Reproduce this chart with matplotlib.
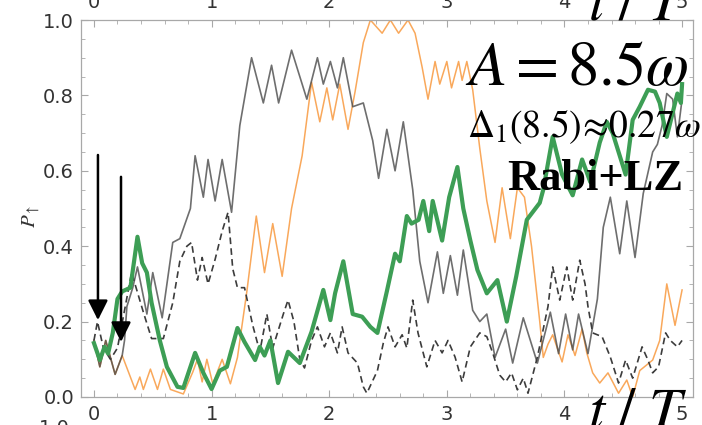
import matplotlib
matplotlib.use("Agg")
import matplotlib.pyplot as plt
import numpy as np

plt.rcParams['mathtext.fontset'] = 'stix'

# ---- data (t/T, P_up) ----
gray_t = [0.00, 0.05, 0.10, 0.18, 0.24, 0.26, 0.28, 0.33, 0.37, 0.45, 0.50, 0.58, 0.67, 0.73,
          0.82, 0.86, 0.93, 0.97, 1.03, 1.09, 1.17, 1.24, 1.34, 1.44, 1.51, 1.57, 1.68, 1.81,
          1.90, 1.95, 2.01, 2.07, 2.12, 2.20, 2.29, 2.37, 2.42, 2.49, 2.56, 2.63, 2.71, 2.77,
          2.84, 2.92, 2.97, 3.03, 3.09, 3.14, 3.22, 3.28, 3.34, 3.41, 3.50, 3.56, 3.65, 3.77,
          3.88, 3.95, 4.01, 4.07, 4.12, 4.20, 4.28, 4.33, 4.39, 4.47, 4.53, 4.60, 4.67, 4.75,
          4.79, 4.83, 4.87, 4.92, 4.96, 5.00]
gray_p = [0.15, 0.08, 0.15, 0.06, 0.11, 0.15, 0.24, 0.29, 0.345, 0.22, 0.33, 0.21, 0.41, 0.42,
          0.50, 0.64, 0.53, 0.63, 0.52, 0.63, 0.49, 0.72, 0.90, 0.78, 0.88, 0.78, 0.92, 0.79,
          0.90, 0.83, 0.89, 0.82, 0.90, 0.77, 0.78, 0.68, 0.58, 0.71, 0.60, 0.73, 0.55, 0.36,
          0.25, 0.385, 0.275, 0.375, 0.27, 0.39, 0.23, 0.20, 0.22, 0.105, 0.18, 0.09, 0.21, 0.09,
          0.225, 0.115, 0.22, 0.125, 0.22, 0.115, 0.26, 0.45, 0.53, 0.38, 0.52, 0.37, 0.54, 0.65,
          0.67, 0.72, 0.805, 0.79, 0.69, 0.79]

orange_t = [0.00, 0.05, 0.10, 0.18, 0.24, 0.35, 0.39, 0.42, 0.48, 0.54, 0.59, 0.65, 0.76, 0.84,
            0.88, 0.92, 0.96, 1.01, 1.09, 1.16, 1.22, 1.30, 1.38, 1.45, 1.52, 1.60, 1.68, 1.77,
            1.85, 1.92, 1.98, 2.03, 2.09, 2.16, 2.22, 2.29, 2.35, 2.45, 2.52, 2.59, 2.67, 2.73,
            2.79, 2.84, 2.90, 2.94, 3.00, 3.04, 3.10, 3.13, 3.17, 3.22, 3.28, 3.34, 3.41, 3.47,
            3.54, 3.60, 3.66, 3.72, 3.79, 3.82, 3.86, 3.90, 3.98, 4.03, 4.09, 4.15, 4.19, 4.24,
            4.30, 4.37, 4.46, 4.53, 4.58, 4.64, 4.75, 4.81, 4.87, 4.94, 5.00]
orange_p = [0.15, 0.08, 0.15, 0.06, 0.11, 0.02, 0.053, 0.02, 0.074, 0.02, 0.074, 0.02, 0.008, 0.066,
            0.10, 0.04, 0.10, 0.035, 0.10, 0.035, 0.105, 0.28, 0.48, 0.33, 0.46, 0.32, 0.50, 0.64,
            0.835, 0.73, 0.82, 0.735, 0.83, 0.71, 0.81, 0.94, 1.0, 0.965, 1.0, 0.965, 1.0, 0.965,
            0.875, 0.79, 0.89, 0.83, 0.89, 0.82, 0.89, 0.84, 0.89, 0.815, 0.66, 0.52, 0.41, 0.555,
            0.42, 0.555, 0.53, 0.40, 0.20, 0.105, 0.14, 0.165, 0.093, 0.165, 0.11, 0.18, 0.117, 0.064,
            0.037, 0.064, 0.01, 0.045, 0.0, 0.07, 0.098, 0.15, 0.30, 0.19, 0.284]

green_t = [0.00, 0.05, 0.09, 0.12, 0.16, 0.20, 0.24, 0.31, 0.37, 0.41, 0.45, 0.49, 0.56, 0.62,
           0.71, 0.76, 0.86, 0.93, 1.00, 1.07, 1.13, 1.22, 1.28, 1.37, 1.41, 1.45, 1.50, 1.565,
           1.65, 1.75, 1.85, 1.95, 2.01, 2.05, 2.12, 2.20, 2.28, 2.35, 2.41, 2.49, 2.56, 2.60,
           2.66, 2.70, 2.76, 2.80, 2.85, 2.88, 2.96, 3.02, 3.09, 3.14, 3.20, 3.26, 3.34, 3.43,
           3.51, 3.59, 3.68, 3.79, 3.82, 3.90, 3.98, 4.07, 4.15, 4.22, 4.30, 4.36, 4.41, 4.47,
           4.52, 4.58, 4.64, 4.71, 4.77, 4.81, 4.87, 4.96, 4.99, 5.00]
green_p = [0.143, 0.098, 0.133, 0.115, 0.17, 0.26, 0.28, 0.29, 0.425, 0.355, 0.33, 0.25, 0.15, 0.08,
           0.027, 0.024, 0.117, 0.064, 0.021, 0.07, 0.08, 0.183, 0.146, 0.098, 0.133, 0.11, 0.15, 0.037,
           0.12, 0.09, 0.173, 0.284, 0.204, 0.275, 0.36, 0.22, 0.213, 0.186, 0.17, 0.28, 0.38, 0.36,
           0.48, 0.46, 0.47, 0.52, 0.44, 0.52, 0.415, 0.53, 0.61, 0.50, 0.415, 0.337, 0.275, 0.31,
           0.20, 0.32, 0.47, 0.515, 0.55, 0.69, 0.59, 0.535, 0.63, 0.57, 0.675, 0.73, 0.70, 0.64,
           0.59, 0.735, 0.77, 0.815, 0.81, 0.78, 0.69, 0.805, 0.78, 0.83]

dash_t = [0.00, 0.03, 0.08, 0.14, 0.20, 0.26, 0.32, 0.42, 0.49, 0.59, 0.67, 0.73, 0.79, 0.83,
          0.88, 0.92, 0.97, 1.03, 1.09, 1.14, 1.18, 1.22, 1.28, 1.35, 1.41, 1.47, 1.52, 1.61,
          1.65, 1.70, 1.75, 1.79, 1.85, 1.90, 1.96, 2.01, 2.07, 2.11, 2.16, 2.24, 2.29, 2.32,
          2.41, 2.46, 2.50, 2.56, 2.62, 2.66, 2.71, 2.755, 2.83, 2.90, 2.96, 3.01, 3.07, 3.13,
          3.20, 3.28, 3.34, 3.39, 3.45, 3.50, 3.55, 3.60, 3.65, 3.69, 3.77, 3.86, 3.90, 3.96,
          4.02, 4.07, 4.13, 4.175, 4.20, 4.24, 4.32, 4.39, 4.46, 4.52, 4.58, 4.66, 4.71, 4.75,
          4.80, 4.86, 4.90, 4.96, 5.00]
dash_p = [0.15, 0.20, 0.13, 0.10, 0.13, 0.23, 0.33, 0.225, 0.155, 0.155, 0.25, 0.36, 0.40, 0.41,
          0.31, 0.37, 0.30, 0.365, 0.44, 0.49, 0.34, 0.29, 0.29, 0.19, 0.12, 0.22, 0.13, 0.22,
          0.257, 0.20, 0.10, 0.077, 0.15, 0.186, 0.133, 0.17, 0.117, 0.186, 0.117, 0.09, 0.027, 0.01,
          0.07, 0.143, 0.186, 0.133, 0.165, 0.13, 0.257, 0.17, 0.08, 0.15, 0.117, 0.15, 0.106, 0.04,
          0.133, 0.17, 0.16, 0.117, 0.058, 0.04, 0.064, 0.019, 0.05, 0.01, 0.106, 0.24, 0.345, 0.257,
          0.345, 0.257, 0.363, 0.30, 0.24, 0.17, 0.16, 0.106, 0.037, 0.098, 0.05, 0.133, 0.098, 0.064,
          0.08, 0.17, 0.15, 0.133, 0.15]

arrow_x = [0.034, 0.23]
arrow_top = [0.642, 0.584]
arrow_tip = [0.204, 0.146]

x_ticks = [0, 1, 2, 3, 4, 5]
y_ticks = [0.0, 0.2, 0.4, 0.6, 0.8, 1.0]

fig = plt.figure(figsize=(7.02, 4.25), dpi=100)
ax = fig.add_axes([0.1154, 0.0659, 0.8718, 0.887])

ax.plot(orange_t, orange_p, color='#f9a85b', lw=1.1, zorder=2)
ax.plot(gray_t, gray_p, color='#4a4a4a', lw=1.2, alpha=0.8, zorder=3)
ax.plot(dash_t, dash_p, color='#3c3c3c', lw=1.2, dashes=(4, 2.5), zorder=3)
ax.plot(green_t, green_p, color='#3d9e55', lw=3.0, zorder=4)

# the two arrows near t = 0
for x, y0, y1 in zip(arrow_x, arrow_top, arrow_tip):
    ax.annotate('', xy=(x, y1), xytext=(x, y0),
                arrowprops=dict(arrowstyle='-|>,head_length=0.6,head_width=0.3',
                                color='k', lw=1.8, mutation_scale=20,
                                shrinkA=0, shrinkB=0), zorder=6)

ax.set_xlim(-0.11, 5.093)
ax.set_ylim(0, 1.0)
ax.set_xticks(x_ticks)
ax.set_xticks(np.arange(0, 5.01, 0.2), minor=True)
ax.set_yticks(y_ticks)
ax.set_yticks(np.arange(0, 1.001, 0.05), minor=True)
ax.set_yticklabels(['%.1f' % v for v in y_ticks])

for s in ax.spines.values():
    s.set_color('#a8a8a8')
    s.set_linewidth(0.9)
ax.tick_params(which='both', direction='in', top=True, right=True, color='#a8a8a8',
               labeltop=True, labelsize=14, labelcolor='#333333')
ax.tick_params(which='major', length=5)
ax.tick_params(which='minor', length=3)
ax.tick_params(axis='x', pad=6)
ax.tick_params(axis='y', pad=5)

fig.text(0.045, 0.49, r'$P_{\uparrow}$', rotation=90, fontsize=15, ha='center', va='center',
         color='#333333')

fig.text(0.980, 0.80, r'$A=8.5\omega$', fontsize=45, ha='right', va='baseline', zorder=10)
fig.text(0.999, 0.678, r'$\Delta_1(8.5)\!\approx\!0.27\omega$', fontsize=27, ha='right',
         va='baseline', zorder=10)
fig.text(0.973, 0.553, 'Rabi+LZ', fontsize=32, family='Liberation Serif', weight='bold',
         ha='right', va='baseline', zorder=10)
fig.text(0.980, -0.007, r'$t\ /\ T$', fontsize=42, ha='right', va='baseline', zorder=10)
fig.text(0.980, 0.955, r'$t\ /\ T$', fontsize=42, ha='right', va='baseline', zorder=10)
fig.text(0.10, 0.014, '1.0', fontsize=14, color='#333333', ha='right', va='top')

fig.savefig('out.png', dpi=100)
